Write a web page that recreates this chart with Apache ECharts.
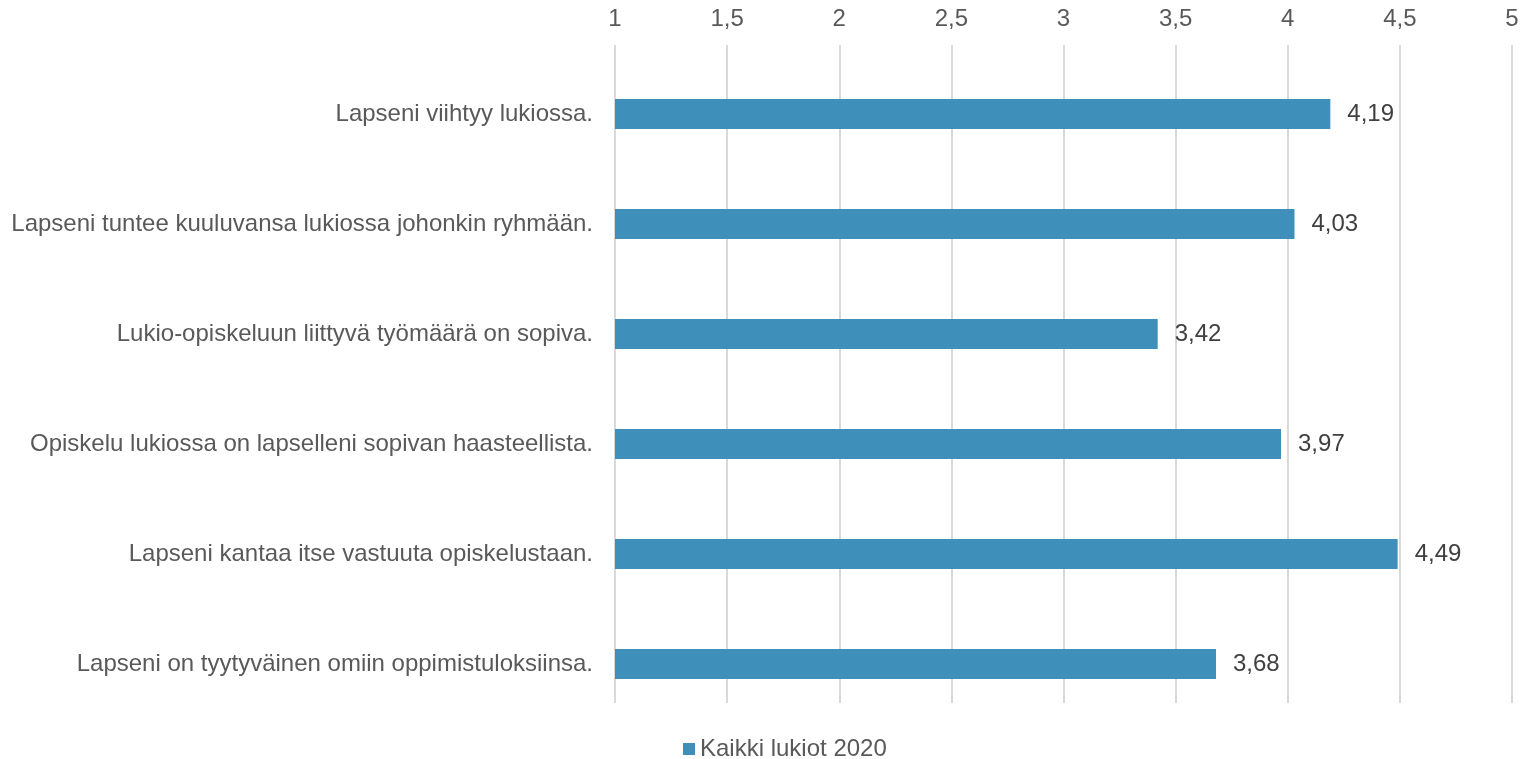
<!DOCTYPE html>
<html>
<head>
    <meta charset="utf-8">
    <title>Kaikki lukiot 2020</title>
    <style>
        html, body { margin: 0; padding: 0; background: #fff; }
        #main { width: 1536px; height: 759px; }
    </style>
</head>
<body>
<div id="main"></div>
<script src="https://cdn.jsdelivr.net/npm/echarts@6/dist/echarts.min.js"></script>
<script>
var categories = [
    'Lapseni viihtyy lukiossa.',
    'Lapseni tuntee kuuluvansa lukiossa johonkin ryhmään.',
    'Lukio-opiskeluun liittyvä työmäärä on sopiva.',
    'Opiskelu lukiossa on lapselleni sopivan haasteellista.',
    'Lapseni kantaa itse vastuuta opiskelustaan.',
    'Lapseni on tyytyväinen omiin oppimistuloksiinsa.'
];
var values = [4.19, 4.03, 3.42, 3.97, 4.49, 3.68];
var seriesName = 'Kaikki lukiot 2020';
var axisMin = 1, axisMax = 5, axisStep = 0.5;

function comma(v) { return String(v).replace('.', ','); }

var FONT = '"Liberation Sans", Arial, sans-serif';
var myChart = echarts.init(document.getElementById('main'));

var option = {
    animation: false,
    textStyle: { fontFamily: FONT },
    legend: {
        data: [seriesName],
        left: 683,
        top: 737,
        padding: 0,
        icon: 'rect',
        itemWidth: 12,
        itemHeight: 12,
        textStyle: { fontSize: 24, color: '#595959', fontFamily: FONT }
    },
    grid: [{
        // bars
        left: 615, right: 24, top: 59, height: 660
    }, {
        // gridlines + top labels
        left: 615, right: 24, top: 45, height: 658
    }],
    xAxis: [{
        gridIndex: 0,
        type: 'value',
        min: axisMin, max: axisMax, interval: axisStep,
        axisLabel: { show: false },
        axisLine: { show: false },
        axisTick: { show: false },
        splitLine: { show: false }
    }, {
        gridIndex: 1,
        type: 'value',
        position: 'top',
        min: axisMin, max: axisMax, interval: axisStep,
        axisLabel: {
            fontSize: 24, color: '#595959', fontFamily: FONT, margin: 14,
            formatter: function (v) { return comma(v); }
        },
        axisLine: { show: false },
        axisTick: { show: false },
        splitLine: { show: true, lineStyle: { color: '#d9d9d9', width: 2 } }
    }],
    yAxis: [{
        gridIndex: 0,
        type: 'category',
        data: categories,
        inverse: true,
        axisLine: { show: false },
        axisTick: { show: false },
        axisLabel: { fontSize: 24, color: '#595959', fontFamily: FONT, margin: 22 }
    }, {
        gridIndex: 1,
        type: 'value',
        show: false
    }],
    series: [{
        name: seriesName,
        type: 'bar',
        xAxisIndex: 0,
        yAxisIndex: 0,
        data: values,
        barWidth: 30,
        itemStyle: { color: '#3f8fbb' },
        label: {
            show: true,
            position: 'right',
            distance: 17,
            fontSize: 24,
            color: '#404040',
            fontFamily: FONT,
            formatter: function (p) { return comma(p.value); }
        }
    }]
};
myChart.setOption(option);
</script>
</body>
</html>
